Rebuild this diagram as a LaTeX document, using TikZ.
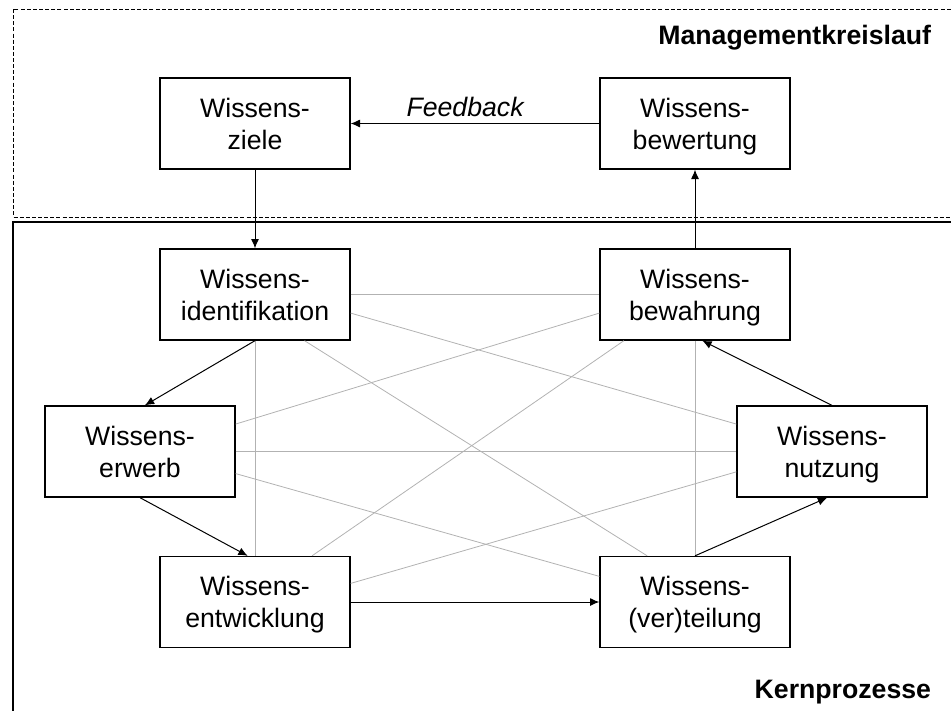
\documentclass[tikz,border=0pt]{standalone}
\usepackage{fontspec}
\setmainfont{Liberation Sans}
\usetikzlibrary{arrows.meta}
\tikzset{
  wbox/.style={draw, line width=1pt, minimum width=142.5pt, minimum height=68.25pt,
    inner sep=0pt, align=center, text depth=0pt, font=\fontsize{20}{24}\selectfont},
  title/.style={anchor=base east, font=\fontsize{20}{24}\selectfont\bfseries},
  link/.style={draw=black!30, line width=0.6pt},
}
\begin{document}
\begin{tikzpicture}[x=0.75pt,y=-0.75pt,>={Latex[length=7pt,width=6pt]},line width=0.75pt]
\clip (0,0) rectangle (951,711);
%
\draw[dash pattern=on 3pt off 1.6pt] (13,9) rectangle (970,217);
\draw[line width=1.6pt] (13,222) rectangle (975,740);
\node[title](mk) at (936,44) {Managementkreislauf};
\node[title](kp) at (936,698) {Kernprozesse};
%
\node[wbox](ziele) at (255,123.5) {Wissens-\\ziele};
\node[wbox](bewert) at (695,123.5) {Wissens-\\bewertung};
\draw[->](bewert) -- node[pos=0.54,above=4.5pt,inner sep=0pt,font=\fontsize{20}{24}\selectfont\itshape]{Feedback} (ziele);
%
\node[wbox](ident) at (255,294.5) {Wissens-\\identifikation};
\node[wbox](bewahr) at (695,294.5) {Wissens-\\bewahrung};
\draw[->](ziele) -- (ident);
\draw[->](bewahr) -- (bewert);
%
\node[wbox](erwerb) at (140,451.5) {Wissens-\\erwerb};
\node[wbox](nutz) at (832,451.5) {Wissens-\\nutzung};
%
\node[wbox](entw) at (255,602) {Wissens-\\entwicklung};
\node[wbox](vert) at (695,602) {Wissens-\\(ver)teilung};
%
\draw[link](ident) -- (bewahr);
\draw[link](ident.-11) -- (nutz.164);
\draw[link](ident.-43) -- (vert.136);
\draw[link](ident) -- (entw);
\draw[link](erwerb.16) -- (bewahr.-169);
\draw[link](erwerb) -- (nutz);
\draw[link](erwerb.-13) -- (vert.165);
\draw[link](entw.39) -- (bewahr.-147);
\draw[link](entw.11) -- (nutz.-168);
\draw[link](bewahr) -- (vert);
%
\draw[->](ident.south) -- (erwerb.84);
\draw[->](erwerb.south) -- (entw.99);
\draw[->](entw) -- (vert);
\draw[->](vert.north) -- (nutz.-96);
\draw[->](nutz.north) -- (bewahr.-81);
\end{tikzpicture}
\end{document}
